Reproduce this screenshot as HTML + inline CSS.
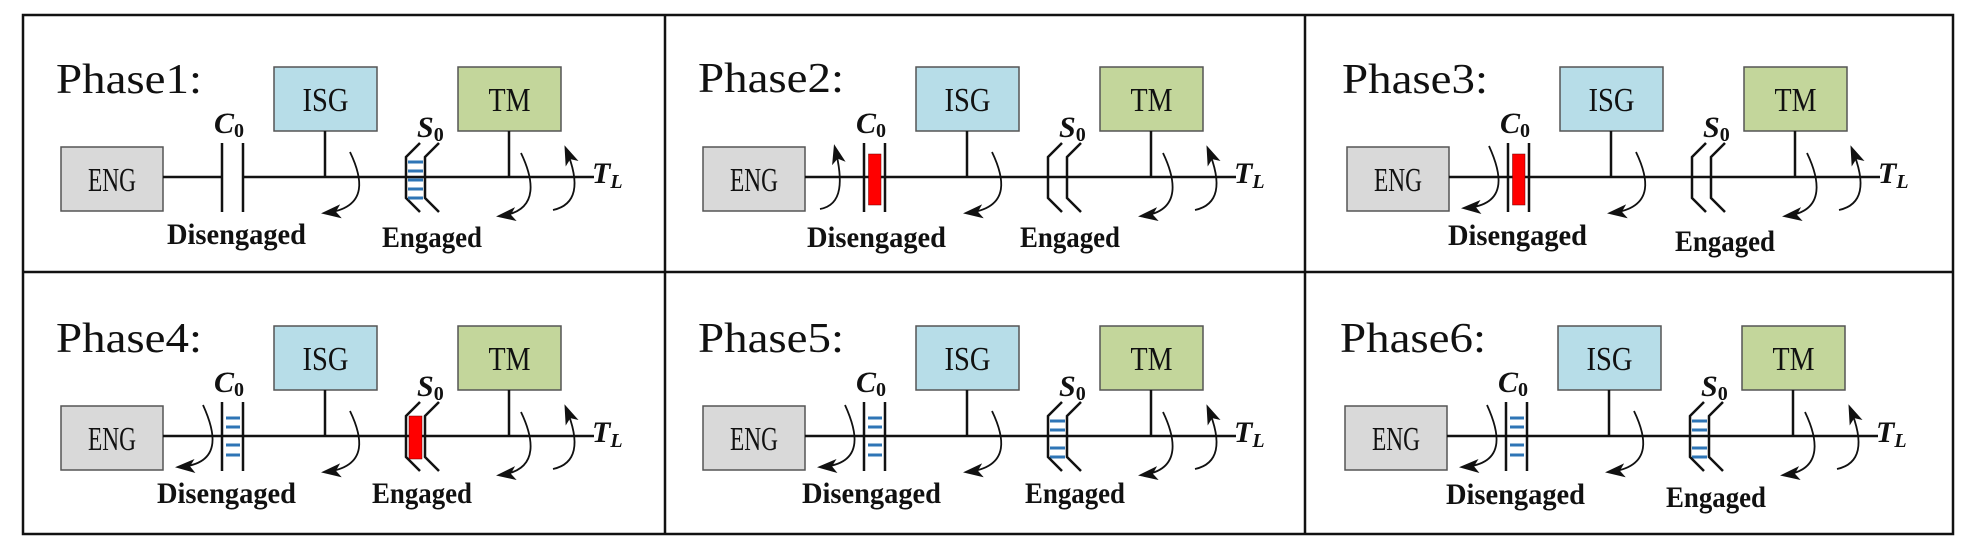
<!DOCTYPE html>
<html><head><meta charset="utf-8"><style>
html,body{margin:0;padding:0;background:#fff;}
svg{display:block;}
.ph{font-family:"Liberation Serif",serif;font-size:42px;fill:#111;}
.bx{font-family:"Liberation Serif",serif;font-size:34px;fill:#111;}
.lb{font-family:"Liberation Serif",serif;font-weight:bold;font-size:30px;fill:#111;}
.sym{font-family:"Liberation Serif",serif;font-weight:bold;font-style:italic;font-size:30px;fill:#111;}
.sub{font-family:"Liberation Serif",serif;font-weight:bold;font-style:normal;font-size:20px;}
.subi{font-family:"Liberation Serif",serif;font-weight:bold;font-style:italic;font-size:20px;}
.ln{stroke:#111;stroke-width:2.5;fill:none;}
.cv{stroke:#111;stroke-width:1.8;fill:none;marker-end:url(#ah);}
.bl{stroke:#2e75b6;stroke-width:3;}
</style></head><body>
<svg width="1965" height="540" viewBox="0 0 1965 540" xmlns="http://www.w3.org/2000/svg">
<defs>
<marker id="ah" markerWidth="20" markerHeight="14" refX="16" refY="7" orient="auto" markerUnits="userSpaceOnUse">
<path d="M0,0 L20,7 L0,14 L5,7 Z" fill="#111"/>
</marker>
</defs>
<rect x="23" y="15" width="1930" height="519" fill="none" stroke="#111" stroke-width="2.5"/>
<line x1="23" y1="272" x2="1953" y2="272" stroke="#111" stroke-width="2.5"/>
<line x1="665" y1="15" x2="665" y2="534" stroke="#111" stroke-width="2.5"/>
<line x1="1305" y1="15" x2="1305" y2="534" stroke="#111" stroke-width="2.5"/>

<!-- Phase 1 -->
<g transform="translate(61,0)">
<text class="ph" x="-5" y="93" textLength="146" lengthAdjust="spacingAndGlyphs">Phase1:</text>
<rect x="0" y="147" width="102" height="64" fill="#d9d9d9" stroke="#555" stroke-width="1.5"/>
<text class="bx" x="51" y="191" text-anchor="middle" textLength="48" lengthAdjust="spacingAndGlyphs">ENG</text>
<rect x="213" y="67" width="103" height="64" fill="#b7dde8" stroke="#555" stroke-width="1.5"/>
<text class="bx" x="264.5" y="111" text-anchor="middle" textLength="46" lengthAdjust="spacingAndGlyphs">ISG</text>
<rect x="397" y="67" width="103" height="64" fill="#c3d69b" stroke="#555" stroke-width="1.5"/>
<text class="bx" x="448.5" y="111" text-anchor="middle" textLength="42" lengthAdjust="spacingAndGlyphs">TM</text>
<line class="ln" x1="102" y1="177" x2="161" y2="177"/>
<line class="ln" x1="182" y1="177" x2="533" y2="177"/>
<line class="ln" x1="264" y1="131" x2="264" y2="177"/>
<line class="ln" x1="448" y1="131" x2="448" y2="177"/>
<line class="ln" x1="161" y1="143" x2="161" y2="212"/>
<line class="ln" x1="182" y1="143" x2="182" y2="212"/>
<text class="sym" x="153" y="133">C<tspan class="sub" dy="4">0</tspan></text>
<path class="ln" d="M359,143 L345,157 L345,198 L359,212"/>
<path class="ln" d="M378,143 L364,157 L364,198 L378,212"/>
<g class="bl"><line x1="347" y1="162" x2="362" y2="162"/><line x1="347" y1="171" x2="362" y2="171"/><line x1="347" y1="180" x2="362" y2="180"/><line x1="347" y1="189" x2="362" y2="189"/><line x1="347" y1="198" x2="362" y2="198"/></g>
<text class="sym" x="356" y="137">S<tspan class="sub" dy="4">0</tspan></text>
<path class="cv" d="M289,152 C300,175 310,208 264,213"/>
<path class="cv" d="M460,153 C471,176 481,211 439,216"/>
<path class="cv" d="M492,210 C515,205 520,185 505,149"/>
<text class="sym" x="531" y="183">T<tspan class="subi" dy="5">L</tspan></text>
<text class="lb" x="106" y="244" textLength="139" lengthAdjust="spacingAndGlyphs">Disengaged</text>
<text class="lb" x="321" y="247" textLength="100" lengthAdjust="spacingAndGlyphs">Engaged</text>
</g>

<!-- Phase 2 -->
<g transform="translate(703,0)">
<text class="ph" x="-5" y="92" textLength="146" lengthAdjust="spacingAndGlyphs">Phase2:</text>
<rect x="0" y="147" width="102" height="64" fill="#d9d9d9" stroke="#555" stroke-width="1.5"/>
<text class="bx" x="51" y="191" text-anchor="middle" textLength="48" lengthAdjust="spacingAndGlyphs">ENG</text>
<rect x="213" y="67" width="103" height="64" fill="#b7dde8" stroke="#555" stroke-width="1.5"/>
<text class="bx" x="264.5" y="111" text-anchor="middle" textLength="46" lengthAdjust="spacingAndGlyphs">ISG</text>
<rect x="397" y="67" width="103" height="64" fill="#c3d69b" stroke="#555" stroke-width="1.5"/>
<text class="bx" x="448.5" y="111" text-anchor="middle" textLength="42" lengthAdjust="spacingAndGlyphs">TM</text>
<line class="ln" x1="102" y1="177" x2="533" y2="177"/>
<line class="ln" x1="264" y1="131" x2="264" y2="177"/>
<line class="ln" x1="448" y1="131" x2="448" y2="177"/>
<rect x="165.5" y="154" width="12.5" height="51" fill="#f00" stroke="#600" stroke-width="0.5"/>
<line class="ln" x1="161" y1="143" x2="161" y2="212"/>
<line class="ln" x1="182" y1="143" x2="182" y2="212"/>
<text class="sym" x="153" y="133">C<tspan class="sub" dy="4">0</tspan></text>
<path class="ln" d="M359,143 L345,157 L345,198 L359,212"/>
<path class="ln" d="M378,143 L364,157 L364,198 L378,212"/>
<text class="sym" x="356" y="137">S<tspan class="sub" dy="4">0</tspan></text>
<path class="cv" d="M117,209 C140,205 140,180 132,148"/>
<path class="cv" d="M289,152 C300,175 310,208 264,213"/>
<path class="cv" d="M460,153 C471,176 481,211 439,216"/>
<path class="cv" d="M492,210 C515,205 520,185 505,149"/>
<text class="sym" x="531" y="183">T<tspan class="subi" dy="5">L</tspan></text>
<text class="lb" x="104" y="247" textLength="139" lengthAdjust="spacingAndGlyphs">Disengaged</text>
<text class="lb" x="317" y="247" textLength="100" lengthAdjust="spacingAndGlyphs">Engaged</text>
</g>

<!-- Phase 3 -->
<g transform="translate(1347,0)">
<text class="ph" x="-5" y="93" textLength="146" lengthAdjust="spacingAndGlyphs">Phase3:</text>
<rect x="0" y="147" width="102" height="64" fill="#d9d9d9" stroke="#555" stroke-width="1.5"/>
<text class="bx" x="51" y="191" text-anchor="middle" textLength="48" lengthAdjust="spacingAndGlyphs">ENG</text>
<rect x="213" y="67" width="103" height="64" fill="#b7dde8" stroke="#555" stroke-width="1.5"/>
<text class="bx" x="264.5" y="111" text-anchor="middle" textLength="46" lengthAdjust="spacingAndGlyphs">ISG</text>
<rect x="397" y="67" width="103" height="64" fill="#c3d69b" stroke="#555" stroke-width="1.5"/>
<text class="bx" x="448.5" y="111" text-anchor="middle" textLength="42" lengthAdjust="spacingAndGlyphs">TM</text>
<line class="ln" x1="102" y1="177" x2="533" y2="177"/>
<line class="ln" x1="264" y1="131" x2="264" y2="177"/>
<line class="ln" x1="448" y1="131" x2="448" y2="177"/>
<rect x="165.5" y="154" width="12.5" height="51" fill="#f00" stroke="#600" stroke-width="0.5"/>
<line class="ln" x1="161" y1="143" x2="161" y2="212"/>
<line class="ln" x1="182" y1="143" x2="182" y2="212"/>
<text class="sym" x="153" y="133">C<tspan class="sub" dy="4">0</tspan></text>
<path class="ln" d="M359,143 L345,157 L345,198 L359,212"/>
<path class="ln" d="M378,143 L364,157 L364,198 L378,212"/>
<text class="sym" x="356" y="137">S<tspan class="sub" dy="4">0</tspan></text>
<path class="cv" d="M142,146 C152,168 165,205 118,208"/>
<path class="cv" d="M289,152 C300,175 310,208 264,213"/>
<path class="cv" d="M460,153 C471,176 481,211 439,216"/>
<path class="cv" d="M492,210 C515,205 520,185 505,149"/>
<text class="sym" x="531" y="183">T<tspan class="subi" dy="5">L</tspan></text>
<text class="lb" x="101" y="245" textLength="139" lengthAdjust="spacingAndGlyphs">Disengaged</text>
<text class="lb" x="328" y="251" textLength="100" lengthAdjust="spacingAndGlyphs">Engaged</text>
</g>

<!-- Phase 4 -->
<g transform="translate(61,259)">
<text class="ph" x="-5" y="93" textLength="146" lengthAdjust="spacingAndGlyphs">Phase4:</text>
<rect x="0" y="147" width="102" height="64" fill="#d9d9d9" stroke="#555" stroke-width="1.5"/>
<text class="bx" x="51" y="191" text-anchor="middle" textLength="48" lengthAdjust="spacingAndGlyphs">ENG</text>
<rect x="213" y="67" width="103" height="64" fill="#b7dde8" stroke="#555" stroke-width="1.5"/>
<text class="bx" x="264.5" y="111" text-anchor="middle" textLength="46" lengthAdjust="spacingAndGlyphs">ISG</text>
<rect x="397" y="67" width="103" height="64" fill="#c3d69b" stroke="#555" stroke-width="1.5"/>
<text class="bx" x="448.5" y="111" text-anchor="middle" textLength="42" lengthAdjust="spacingAndGlyphs">TM</text>
<line class="ln" x1="102" y1="177" x2="533" y2="177"/>
<line class="ln" x1="264" y1="131" x2="264" y2="177"/>
<line class="ln" x1="448" y1="131" x2="448" y2="177"/>
<g class="bl"><line x1="165" y1="159" x2="179" y2="159"/><line x1="165" y1="168" x2="179" y2="168"/><line x1="165" y1="186" x2="179" y2="186"/><line x1="165" y1="196" x2="179" y2="196"/></g>
<line class="ln" x1="161" y1="143" x2="161" y2="212"/>
<line class="ln" x1="182" y1="143" x2="182" y2="212"/>
<text class="sym" x="153" y="133">C<tspan class="sub" dy="4">0</tspan></text>
<rect x="348" y="157" width="13" height="43" fill="#f00" stroke="#600" stroke-width="0.5"/>
<path class="ln" d="M359,143 L345,157 L345,198 L359,212"/>
<path class="ln" d="M378,143 L364,157 L364,198 L378,212"/>
<text class="sym" x="356" y="137">S<tspan class="sub" dy="4">0</tspan></text>
<path class="cv" d="M142,146 C152,168 165,205 118,208"/>
<path class="cv" d="M289,152 C300,175 310,208 264,213"/>
<path class="cv" d="M460,153 C471,176 481,211 439,216"/>
<path class="cv" d="M492,210 C515,205 520,185 505,149"/>
<text class="sym" x="531" y="183">T<tspan class="subi" dy="5">L</tspan></text>
<text class="lb" x="96" y="244" textLength="139" lengthAdjust="spacingAndGlyphs">Disengaged</text>
<text class="lb" x="311" y="244" textLength="100" lengthAdjust="spacingAndGlyphs">Engaged</text>
</g>

<!-- Phase 5 -->
<g transform="translate(703,259)">
<text class="ph" x="-5" y="93" textLength="146" lengthAdjust="spacingAndGlyphs">Phase5:</text>
<rect x="0" y="147" width="102" height="64" fill="#d9d9d9" stroke="#555" stroke-width="1.5"/>
<text class="bx" x="51" y="191" text-anchor="middle" textLength="48" lengthAdjust="spacingAndGlyphs">ENG</text>
<rect x="213" y="67" width="103" height="64" fill="#b7dde8" stroke="#555" stroke-width="1.5"/>
<text class="bx" x="264.5" y="111" text-anchor="middle" textLength="46" lengthAdjust="spacingAndGlyphs">ISG</text>
<rect x="397" y="67" width="103" height="64" fill="#c3d69b" stroke="#555" stroke-width="1.5"/>
<text class="bx" x="448.5" y="111" text-anchor="middle" textLength="42" lengthAdjust="spacingAndGlyphs">TM</text>
<line class="ln" x1="102" y1="177" x2="533" y2="177"/>
<line class="ln" x1="264" y1="131" x2="264" y2="177"/>
<line class="ln" x1="448" y1="131" x2="448" y2="177"/>
<g class="bl"><line x1="165" y1="159" x2="179" y2="159"/><line x1="165" y1="168" x2="179" y2="168"/><line x1="165" y1="186" x2="179" y2="186"/><line x1="165" y1="196" x2="179" y2="196"/></g>
<line class="ln" x1="161" y1="143" x2="161" y2="212"/>
<line class="ln" x1="182" y1="143" x2="182" y2="212"/>
<text class="sym" x="153" y="133">C<tspan class="sub" dy="4">0</tspan></text>
<g class="bl"><line x1="347" y1="162" x2="362" y2="162"/><line x1="347" y1="171" x2="362" y2="171"/><line x1="347" y1="189" x2="362" y2="189"/><line x1="347" y1="198" x2="362" y2="198"/></g>
<path class="ln" d="M359,143 L345,157 L345,198 L359,212"/>
<path class="ln" d="M378,143 L364,157 L364,198 L378,212"/>
<text class="sym" x="356" y="137">S<tspan class="sub" dy="4">0</tspan></text>
<path class="cv" d="M142,146 C152,168 165,205 118,208"/>
<path class="cv" d="M289,152 C300,175 310,208 264,213"/>
<path class="cv" d="M460,153 C471,176 481,211 439,216"/>
<path class="cv" d="M492,210 C515,205 520,185 505,149"/>
<text class="sym" x="531" y="183">T<tspan class="subi" dy="5">L</tspan></text>
<text class="lb" x="99" y="244" textLength="139" lengthAdjust="spacingAndGlyphs">Disengaged</text>
<text class="lb" x="322" y="244" textLength="100" lengthAdjust="spacingAndGlyphs">Engaged</text>
</g>

<!-- Phase 6 -->
<g transform="translate(1345,259)">
<text class="ph" x="-5" y="93" textLength="146" lengthAdjust="spacingAndGlyphs">Phase6:</text>
<rect x="0" y="147" width="102" height="64" fill="#d9d9d9" stroke="#555" stroke-width="1.5"/>
<text class="bx" x="51" y="191" text-anchor="middle" textLength="48" lengthAdjust="spacingAndGlyphs">ENG</text>
<rect x="213" y="67" width="103" height="64" fill="#b7dde8" stroke="#555" stroke-width="1.5"/>
<text class="bx" x="264.5" y="111" text-anchor="middle" textLength="46" lengthAdjust="spacingAndGlyphs">ISG</text>
<rect x="397" y="67" width="103" height="64" fill="#c3d69b" stroke="#555" stroke-width="1.5"/>
<text class="bx" x="448.5" y="111" text-anchor="middle" textLength="42" lengthAdjust="spacingAndGlyphs">TM</text>
<line class="ln" x1="102" y1="177" x2="533" y2="177"/>
<line class="ln" x1="264" y1="131" x2="264" y2="177"/>
<line class="ln" x1="448" y1="131" x2="448" y2="177"/>
<g class="bl"><line x1="165" y1="159" x2="179" y2="159"/><line x1="165" y1="168" x2="179" y2="168"/><line x1="165" y1="186" x2="179" y2="186"/><line x1="165" y1="196" x2="179" y2="196"/></g>
<line class="ln" x1="161" y1="143" x2="161" y2="212"/>
<line class="ln" x1="182" y1="143" x2="182" y2="212"/>
<text class="sym" x="153" y="133">C<tspan class="sub" dy="4">0</tspan></text>
<g class="bl"><line x1="347" y1="162" x2="362" y2="162"/><line x1="347" y1="171" x2="362" y2="171"/><line x1="347" y1="189" x2="362" y2="189"/><line x1="347" y1="198" x2="362" y2="198"/></g>
<path class="ln" d="M359,143 L345,157 L345,198 L359,212"/>
<path class="ln" d="M378,143 L364,157 L364,198 L378,212"/>
<text class="sym" x="356" y="137">S<tspan class="sub" dy="4">0</tspan></text>
<path class="cv" d="M142,146 C152,168 165,205 118,208"/>
<path class="cv" d="M289,152 C300,175 310,208 264,213"/>
<path class="cv" d="M460,153 C471,176 481,211 439,216"/>
<path class="cv" d="M492,210 C515,205 520,185 505,149"/>
<text class="sym" x="531" y="183">T<tspan class="subi" dy="5">L</tspan></text>
<text class="lb" x="101" y="245" textLength="139" lengthAdjust="spacingAndGlyphs">Disengaged</text>
<text class="lb" x="321" y="248" textLength="100" lengthAdjust="spacingAndGlyphs">Engaged</text>
</g>
</svg>
</body></html>
